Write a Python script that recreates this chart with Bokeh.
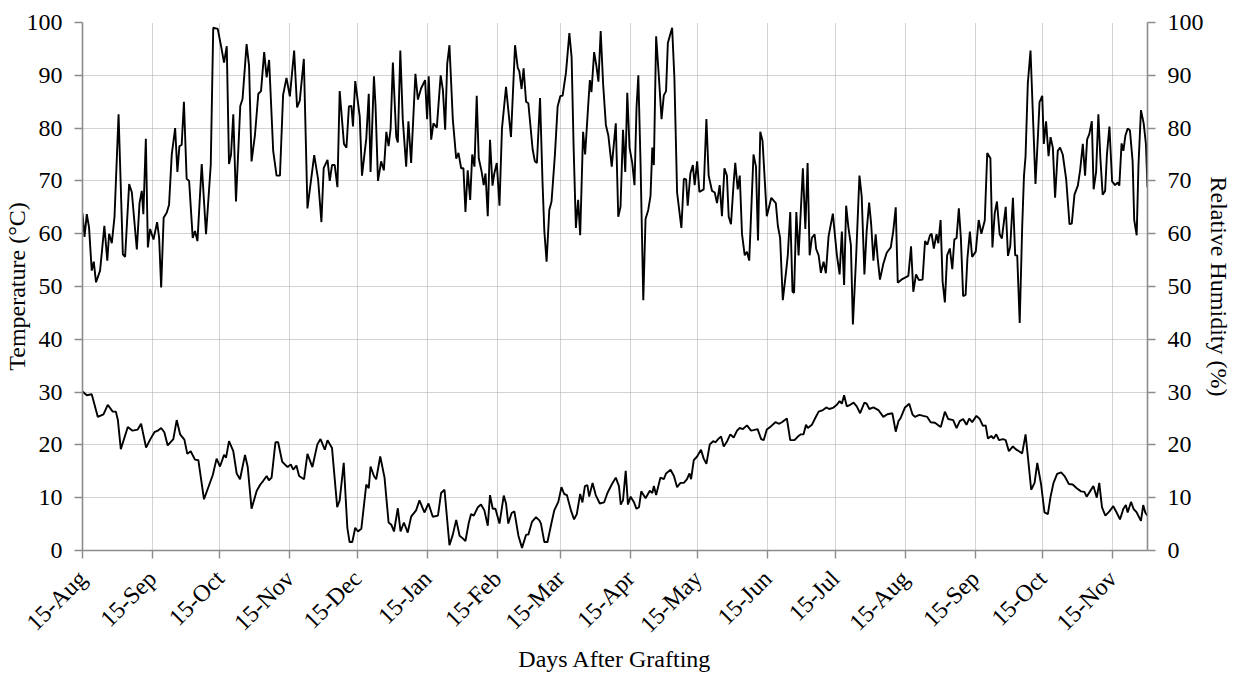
from datetime import date
from bokeh.plotting import figure
from bokeh.models import Range1d, LinearAxis, FixedTicker
from bokeh.embed import file_html
from bokeh.resources import INLINE

# ---------------- data ----------------
start_date = date(2014, 8, 15)      # day 0 of the x axis
end_day = 472.5                      # last day shown

tick_months = [(2014, 8), (2014, 9), (2014, 10), (2014, 11), (2014, 12),
               (2015, 1), (2015, 2), (2015, 3), (2015, 4), (2015, 5),
               (2015, 6), (2015, 7), (2015, 8), (2015, 9), (2015, 10),
               (2015, 11)]
tick_labels = ["15-Aug", "15-Sep", "15-Oct", "15-Nov", "15-Dec", "15-Jan",
               "15-Feb", "15-Mar", "15-Apr", "15-May", "15-Jun", "15-Jul",
               "15-Aug", "15-Sep", "15-Oct", "15-Nov"]

# relative humidity (%) : day offset / value
hum_day = [0, 0.9, 1.9, 2.9, 4.1, 5, 6, 7.8, 9.7, 11, 11.8, 13, 14.2, 16, 17.9, 18.9, 20.7, 21.9, 24.1, 25.3,
           26.3, 27, 28.1, 29, 30, 31.5, 33.1, 34, 34.9, 36, 37.4, 38.4, 39.6, 41.1, 42.1, 43, 44, 45, 46.2, 47.3,
           48.9, 49.9, 51, 52.9, 54.8, 56.9, 58, 60, 61.4, 62.8, 64, 65, 65.9, 66.9, 68.1, 70, 71, 72.8, 73.9, 75,
           76.5, 78, 79.2, 80.6, 81.7, 82.8, 84.6, 86.1, 87.6, 89, 90.5, 92, 93.9, 95.2, 96.4, 98.2, 99.8, 102.8,
           104.5, 106, 107, 108.7, 109.7, 110.7, 111.9, 113.1, 114.1, 116, 117.1, 118.2, 119.3, 120, 121, 123, 124,
           125.9, 127, 127.8, 129.3, 130, 131.1, 132.5, 133.7, 134.8, 135.8, 136.7, 137.7, 139.2, 139.9, 141, 142.1,
           143.6, 144.6, 145.8, 147.7, 148.8, 150.2, 152, 152.9, 153.6, 154.7, 155.7, 157.2, 158.9, 159.9, 160.9,
           161.8, 162.8, 164.3, 165.8, 166.8, 168, 169, 169.9, 170.9, 172, 172.9, 173.9, 174.9, 175.8, 177.1, 178,
           178.8, 179.8, 180.8, 181.9, 182.7, 183.8, 185, 186.1, 187.9, 190.1, 191.9, 193.1, 193.8, 194.8, 195.7,
           196.8, 197.8, 199.7, 200.7, 201.6, 203, 204.1, 204.9, 205.9, 207.1, 208.1, 209.6, 210.8, 212, 213, 214.5,
           216, 217, 217.9, 218.9, 219.9, 220.8, 222.1, 223, 224.3, 225.1, 225.8, 227, 228, 228.9, 229.9, 231,
           232.2, 233.3, 234.8, 236.6, 237.7, 238.7, 239.8, 240.8, 241.7, 242.7, 243.9, 244.9, 245.8, 246.6, 247.6,
           248.8, 249.8, 251, 252, 252.8, 253.5, 254.5, 255.7, 256.9, 257.9, 258.9, 259.7, 261.6, 262.6, 263.8,
           265.7, 266.8, 267.8, 268.5, 269.7, 270.8, 271.6, 272.7, 273.7, 275.6, 276.8, 277.8, 279.3, 280.5, 281.5,
           282.7, 283.7, 284.8, 285.9, 286.7, 287.7, 288.9, 289.6, 290.7, 291.6, 292.6, 293.8, 294.8, 295.8, 297.7,
           298.8, 299.7, 300.7, 301.7, 303.6, 305.6, 307.6, 308.5, 309.5, 310.7, 312.2, 312.9, 314, 315, 315.7,
           316.7, 317.7, 318.7, 319.6, 320.7, 321.7, 322.6, 323.6, 324.8, 325.5, 326.6, 327.6, 328.8, 329.8, 331,
           332.9, 334.7, 335.9, 336.9, 337.9, 338.8, 339.8, 340.9, 341.8, 343.2, 344.7, 345.7, 346.9, 347.9, 349,
           349.9, 350.9, 351.9, 352.8, 353.8, 355.3, 356.8, 358.6, 359.7, 360.8, 361.7, 363.7, 366.4, 367.6, 368.6,
           369.8, 371.1, 372.7, 373.8, 374.8, 376, 376.7, 377.7, 378.9, 379.7, 380.7, 381.6, 382.6, 383.6, 384.8,
           385.9, 386.8, 387.8, 388.8, 389.7, 390.7, 391.8, 392.6, 393.7, 394.7, 396.3, 397.6, 398.8, 400.3, 401.4,
           402.8, 403.7, 404.7, 405.7, 406.9, 407.9, 409.6, 410.6, 411.6, 412.8, 413.8, 414.7, 415.8, 416.9, 417.7,
           418.4, 419.4, 420.6, 421.6, 422.8, 423.9, 424.6, 425.8, 426.5, 427.5, 428.6, 429.5, 430.5, 431.5, 432.7,
           433.7, 434.9, 436.4, 437.9, 438.9, 440.1, 441.6, 442.6, 443.8, 444.8, 445.7, 446.7, 447.8, 448.6, 449.7,
           450.7, 451.6, 452.6, 453.7, 454.5, 455.6, 456.8, 458.1, 459.3, 460, 461, 461.8, 462.7, 463.7, 464.7,
           465.9, 466.6, 467.7, 468.5, 469.6, 470.8, 471.8, 472.5]
hum_val = [63.8, 59.4, 63.7, 61.2, 53, 54.7, 50.8, 53, 61.5, 54.9, 60, 58.2, 63.2, 82.6, 56.1, 55.6, 69.4, 67.8, 57, 65.8,
           68.1, 63.7, 78, 57.4, 60.9, 58.9, 62.2, 59.2, 49.8, 63, 64, 65.5, 75, 80, 71.7, 76.6, 76.8, 85, 70.4, 70,
           59.2, 60.5, 58.6, 73.2, 59.9, 73, 99, 98.8, 95.7, 92.4, 95.5, 73.2, 75, 82.6, 66.1, 84.2, 85.5, 95.9, 91.8, 73.7,
           78.6, 86.5, 87, 94.4, 89.6, 92.9, 75.7, 71, 71, 86.3, 89.5, 86, 94.7, 83.9, 85.2, 93.1, 64.8, 74.9,
           70.4, 62.2, 72.4, 74, 70, 73, 73, 68.8, 87, 77, 76.3, 84.1, 84.2, 80.3, 88.9, 82.2, 71,
           78, 86.5, 71.7, 89.8, 84.3, 70, 73.7, 72, 79.3, 76.6, 79.9, 92.4, 78.3, 77.3, 94.7, 81.6,
           72.7, 81.3, 73.4, 90.3, 85.4, 87.5, 89.1, 81.7, 89.8, 77.8, 80.9, 80.1, 90, 87.2, 79.7,
           92.1, 95.7, 81.6, 74.2, 75.3, 72.4, 72.4, 64.1, 72, 66.4, 75, 72.7, 86.1, 74.3, 71.7, 69.2,
           71.4, 63.3, 77.8, 69.1, 71.4, 73.4, 65.3, 79.9, 87.8, 78.3, 95.7, 91.4, 90.8, 87.4, 91.3,
           85, 84.7, 76, 73.7, 73.4, 85.7, 69.7, 60.5, 54.7, 64.5, 66.1, 75, 84.1, 86.1, 86.1, 90.5,
           98, 93.4, 76.3, 61.1, 66.4, 59.7, 79.3, 75, 83.9, 89.1, 86.8, 94.4, 91.8, 88.8, 98.4, 88.2,
           80.6, 78.6, 72.7, 80.9, 63.2, 65.1, 79.7, 71.7, 86.7, 76.3, 73.4, 69.2, 83.9, 90, 73,
           47.4, 62.8, 64.5, 67.1, 76.3, 73, 97.4, 89.8, 81.7, 86.2, 87, 96.1, 99, 89.5, 67.8,
           61.1, 70.4, 70.3, 65.3, 71.4, 73, 69.2, 73.7, 67.9, 68.4, 81.7, 71, 68.1, 67.8, 65.8,
           69.2, 63.3, 72.4, 71, 63.2, 61.8, 69.7, 73.4, 68.4, 71, 59.9, 55.9, 56.6, 54.9, 75,
           72.7, 58.7, 79.3, 77.6, 63.3, 66.8, 65.8, 61.5, 59.2, 47.4, 53, 55.9, 64.1, 49, 48.8,
           64.1, 55.9, 64.5, 72.4, 60.9, 73.4, 55.9, 59.2, 59.9, 57.1, 55.9, 52.6, 54.7, 52.5, 59.5,
           63.8, 55.9, 52.3, 60.4, 50.3, 65.3, 61.2, 57.9, 42.8, 55.3, 71, 67.1, 52.3, 60.5, 65.9,
           61.8, 54.9, 59.9, 55.3, 51.3, 54.3, 56.4, 57.4, 60.5, 65, 50.7, 51.4, 52, 57.6, 49,
           52.3, 51.2, 51.3, 58.6, 57.9, 59.7, 60, 57.2, 59.9, 58.2, 62.6, 50.9, 47, 55.9, 57.2,
           53.3, 58.9, 59.2, 64.8, 59.2, 48.2, 48.4, 55.3, 60.4, 55.6, 56.6, 62.6, 60, 62.5, 75.3,
           74.3, 57.4, 63.8, 66.1, 59.9, 59.1, 65.1, 55.8, 57.6, 66.8, 55.9, 55.9, 43.1, 61.2, 71,
           74.7, 88.5, 94.7, 83.2, 69.4, 78.6, 84.9, 86.1, 77, 81.3, 74.7, 78.3, 76.3, 66.8, 75.7,
           76.3, 75, 70.4, 61.8, 61.9, 67.4, 69.1, 72, 77, 71, 77.8, 78.9, 81.3, 68.4, 71.7,
           82.6, 74.3, 67.4, 68.1, 75, 80.3, 69.9, 69.2, 69.7, 69.1, 77.1, 75.7, 78.6, 79.9, 79.6,
           73.7, 62.6, 59.7, 73, 83.4, 80.9, 77, 68.8]

# temperature (°C) : day offset / value
temp_day = [0, 1.9, 4.1, 6.8, 9.3, 11.2, 13.4, 14.8, 15.7, 17, 20.1, 22.2, 24.5, 26, 28.2, 30, 31.9, 33.4, 34.9, 36.3,
            37.8, 40.3, 41.8, 43.3, 45.2, 46.5, 48, 49.9, 51.4, 53.9, 57.8, 59.5, 61, 62.8, 63.7, 65, 66.9, 68.4,
            69.9, 70.6, 72.1, 73.3, 75, 77.3, 78.9, 80.2, 81.7, 82.7, 83.9, 85.6, 86.8, 88.6, 91, 92.4, 93.5, 94.9,
            96.1, 98.3, 99.8, 102, 104.2, 105.6, 107.5, 108.7, 110.7, 113, 114.1, 115.9, 117.5, 118.5, 119.7, 121,
            122.2, 123.7, 125.9, 127, 127.8, 129.3, 130.3, 132.1, 134, 135.8, 137, 138.2, 139.9, 141.1, 142.6,
            144.3, 145.8, 148, 149.5, 151.7, 153.5, 155.4, 157.7, 159.1, 160.6, 162.8, 164.3, 165.8, 167.3, 168.7,
            169.9, 171.4, 172.4, 173.6, 175.4, 176.8, 178.3, 179.8, 180.8, 182, 183.2, 185, 186.9, 187.9, 188.9,
            190.4, 191.6, 193.4, 195, 196.8, 197.8, 199.4, 201.2, 202.7, 203.4, 204.9, 206.3, 207.8, 209.3, 211.1,
            212.5, 213.7, 214.9, 216.7, 218.1, 219.3, 220.8, 221.8, 222.9, 224, 224.8, 226.3, 227.7, 229.5, 231.4,
            232.9, 234.8, 236.6, 238, 238.8, 239.8, 241, 242, 243.2, 244.6, 245.8, 246.9, 247.9, 249.8, 251.7,
            252.8, 253.5, 254.5, 256.4, 257.9, 258.9, 260.9, 262.4, 263.8, 265.3, 266.8, 268.2, 269.3, 270, 271.2,
            272.7, 274.4, 275.6, 276.8, 278.3, 279.8, 280.8, 282, 283.3, 284.5, 286, 287.4, 288.9, 290.4, 291.6,
            293, 294.8, 296.6, 297.7, 299.5, 301.1, 302.2, 303.6, 305.4, 307.4, 309.1, 310.3, 312.5, 314, 315.9,
            317.7, 318.7, 319.9, 321, 321.8, 323.6, 325.1, 326.6, 328.5, 330, 331.3, 332.9, 334.7, 335.9, 336.9,
            337.9, 339.1, 340.6, 342.1, 343.5, 345, 346.9, 347.9, 349.1, 350.9, 353.1, 355.3, 357.1, 359.3, 360.8,
            362, 363, 364.9, 366.8, 368.2, 369.3, 371.3, 373, 374.8, 376.3, 378.2, 379.7, 380.8, 382.6, 384.1,
            386.3, 387.8, 389.2, 390.7, 392.2, 393.4, 394.7, 396.6, 398.1, 399.5, 400.7, 401.7, 403.2, 404.2, 405.4,
            406.6, 408.4, 409.6, 411, 412.8, 414, 415.5, 416.9, 418.4, 419.4, 420.9, 422.4, 423.6, 425.3, 426.8,
            428.3, 429.5, 430.8, 432.4, 434.2, 435.7, 437.6, 439.3, 441.1, 443, 444.5, 445.5, 447, 448.5, 450,
            451.1, 452.3, 453.8, 455.6, 457.3, 458.8, 460.3, 461.8, 462.9, 463.7, 465.2, 466.3, 467.7, 469.6, 470.6,
            471.5, 472.5]
temp_val = [30.1, 29.4, 29.6, 25.3, 25.8, 27.6, 26.3, 26.3, 24.7, 19.2, 23.4, 22.7, 22.9, 24, 19.5, 21, 22.4, 22.7, 23.2, 22.4,
            19.9, 21.1, 24.7, 22, 21, 18.3, 18.8, 17.2, 17.1, 9.7, 14.3, 17.4, 15.9, 18.1, 17.6, 20.7, 18.8, 14.6,
            13.5, 15, 18.1, 15.8, 7.9, 11.3, 12.5, 13.2, 14.1, 13.3, 13.8, 20.5, 20.5, 16.8, 15.8, 16.3, 15.3, 16.1,
            14.1, 13.5, 18.3, 15.8, 20.1, 21.1, 19.1, 20.9, 19.4, 8.2, 9.5, 16.6, 4.3, 1.6, 1.6, 4.3,
            3.6, 4.1, 12.5, 11.8, 15.9, 14.1, 13.5, 17.8, 13.8, 5.3, 4.9, 3.6, 8, 3.6, 5.3,
            3.4, 6.4, 7.6, 9.5, 7.2, 8.9, 6.4, 6.6, 10.9, 11.5, 1, 3, 5.8, 2.8, 2.3,
            1.8, 5.3, 6.9, 6.6, 8.2, 8.7, 7.6, 4.7, 10.5, 7.9, 7.9, 5.1, 10.4, 8.9, 5.1,
            7.1, 7.4, 2.8, 0.5, 3, 3, 5.4, 6.3, 5.7, 5.1, 1.6, 1.6, 4.7, 7.6, 9.2,
            12, 10.7, 10.5, 7.6, 5.9, 6.9, 10.7, 9.1, 12.2, 12.4, 10.2, 12.8, 10.5, 8.9, 9.1,
            10.9, 12.5, 13.8, 12.2, 8.7, 9.5, 15.1, 8.7, 10.2, 9.2, 7.9, 8.2, 11.2, 9.9, 11.3,
            10.9, 12.2, 10.5, 13.8, 13.5, 14.6, 15.3, 14.1, 12, 12.8, 12.8, 13.5, 14.6, 13.5, 17.1,
            17.8, 19.1, 17.4, 16.4, 20.1, 20.7, 20.5, 21.1, 21.6, 19.7, 20.7, 22, 21.4, 22.7, 23.2,
            23, 23.7, 22.7, 22.8, 23, 21.1, 20.9, 22.9, 23.5, 24.3, 24, 24.3, 25, 20.9, 20.9,
            21.7, 22, 22, 23.8, 23.2, 23.8, 25.1, 26.3, 26.6, 27.1, 26.8, 27, 27.6, 28.3, 27.8,
            29.4, 27.3, 27.6, 28, 27.3, 26, 28, 27.8, 26.8, 27.1, 26.6, 25.3, 25.8, 26, 22.5,
            24.5, 25.1, 27.1, 27.8, 25.8, 25.3, 25.7, 25.5, 25.3, 24.3, 24.2, 23.7, 23.4, 26.3, 24.9,
            24.7, 23.2, 24.5, 24.9, 23.8, 25, 24.3, 25.5, 24.9, 23.6, 23.7, 21.2, 21.7, 21.2, 22,
            20.9, 21.1, 20.9, 18.8, 19.7, 19.2, 18.8, 18.4, 22, 17.9, 11.5, 12.8, 16.6, 12.5, 7.2,
            6.9, 10.2, 12.8, 14.5, 14.8, 14.1, 12.6, 12.5, 11.8, 11.2, 11.1, 10.2, 11.2, 12.2, 10,
            12.8, 8.2, 6.6, 7.4, 8.4, 7.2, 5.9, 7.9, 8.6, 7.2, 9.2, 7.9, 7.2, 5.6, 8.6,
            7.2, 6.6]

y_ticks = [0, 10, 20, 30, 40, 50, 60, 70, 80, 90, 100]

# ---------------- figure ----------------
FONT = "Liberation Serif"
tick_pos = [(date(y, m, 15) - start_date).days for (y, m) in tick_months]

p = figure(width=1234, height=674, output_backend="svg", toolbar_location=None,
           x_range=Range1d(0, end_day), y_range=Range1d(0, 100),
           min_border_left=82, min_border_right=85, min_border_top=22, min_border_bottom=124)
p.outline_line_color = None
p.background_fill_color = "white"
p.border_fill_color = "white"

p.line(hum_day, hum_val, line_color="black", line_width=1.9)
p.line(temp_day, temp_val, line_color="black", line_width=1.9)

axis_color = "#8c8c8c"

def style_axis(ax):
    ax.axis_line_color = axis_color
    ax.axis_line_width = 1.6
    ax.major_tick_line_color = axis_color
    ax.major_tick_line_width = 1.4
    ax.major_tick_out = 8
    ax.major_tick_in = 0
    ax.minor_tick_line_color = None
    ax.major_label_text_font = FONT
    ax.major_label_text_font_size = "24px"
    ax.major_label_text_color = "black"
    ax.axis_label_text_font = FONT
    ax.axis_label_text_font_size = "24px"
    ax.axis_label_text_font_style = "normal"
    ax.axis_label_text_color = "black"

xa = p.xaxis[0]
xa.ticker = FixedTicker(ticks=tick_pos)
xa.major_label_overrides = {pos: lab for pos, lab in zip(tick_pos, tick_labels)}
xa.major_label_orientation = 0.785398
xa.axis_label = "Days After Grafting"
style_axis(xa)
xa.major_label_standoff = 16
xa.axis_label_standoff = -4

ya = p.yaxis[0]
ya.ticker = FixedTicker(ticks=y_ticks)
ya.axis_label = "Temperature (°C)"
style_axis(ya)
ya.major_label_standoff = 12
ya.axis_label_standoff = -6

ra = LinearAxis(y_range_name="default", ticker=FixedTicker(ticks=y_ticks),
                axis_label="Relative Humidity (%)")
style_axis(ra)
ra.major_label_standoff = 12
ra.axis_label_standoff = -1
p.add_layout(ra, "right")

p.xgrid.ticker = FixedTicker(ticks=tick_pos)
p.ygrid.ticker = FixedTicker(ticks=y_ticks)
for g in (p.xgrid[0], p.ygrid[0]):
    g.grid_line_color = "#a6a6a6"
    g.grid_line_width = 1
    g.grid_line_dash = "1 1"

open("out.html", "w").write(file_html(p, INLINE))
